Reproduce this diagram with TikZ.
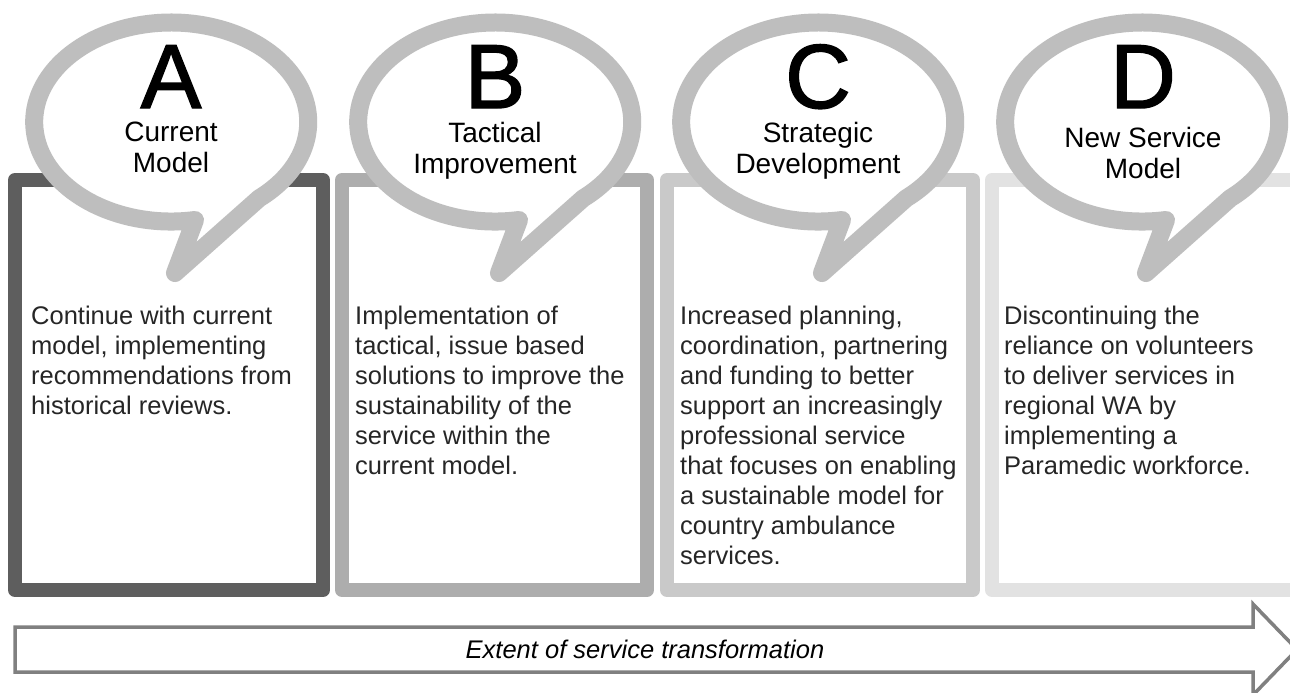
\documentclass[tikz,border=0pt]{standalone}
\usepackage{fontspec}
\setmainfont{Liberation Sans}
\newfontfamily\letterfont[FakeBold=1.6]{Liberation Sans}
\definecolor{bubblegray}{HTML}{BEBEBE}
\definecolor{edgeA}{HTML}{5E5E5E}
\definecolor{edgeB}{HTML}{ADADAD}
\definecolor{edgeC}{HTML}{C9C9C9}
\definecolor{edgeD}{HTML}{E2E2E2}
\definecolor{arrowgray}{HTML}{808080}
\tikzset{bubble/.style = {draw=bubblegray, fill=white, line width=18pt, line join=round},
         stage/.style = {fill=white, line width=14pt, line join=round},
         letter/.style = {anchor=base, inner sep=0, text depth=0pt, font=\letterfont\fontsize{91}{91}\selectfont},
         title/.style = {anchor=north, inner sep=0, align=center, font=\fontsize{28}{31}\selectfont},
         body/.style = {anchor=north west, inner sep=0, align=left, text=black!85, font=\fontsize{25.5}{30}\selectfont}}

\begin{document}
\begin{tikzpicture}[x=1pt, y=-1pt]
            \clip (0,0) rectangle (1290,693);
            \fill [white] (0,0) rectangle (1290,693);
            % boxes
            \draw [stage, draw=edgeA] (15,180) rectangle (323,590);
            \draw [stage, draw=edgeB] (342,180) rectangle (647,590);
            \draw [stage, draw=edgeC] (667,180) rectangle (973,590);
            \draw [stage, draw=edgeD] (992,180) rectangle (1298,590);
            % speech bubbles
            \draw [bubble] (175,273)--(195,220) arc [start angle=80, end angle=410, x radius=137, y radius=99.5]--cycle;
            \draw [bubble] (499,273)--(519,220) arc [start angle=80, end angle=410, x radius=137, y radius=99.5]--cycle;
            \draw [bubble] (822,273)--(842,220) arc [start angle=80, end angle=410, x radius=137, y radius=99.5]--cycle;
            \draw [bubble] (1146,273)--(1166,220) arc [start angle=80, end angle=410, x radius=137, y radius=99.5]--cycle;
            \node [letter] (letterA) at (171,108) {A};
            \node [letter] (letterB) at (495,108) {B};
            \node [letter] (letterC) at (818,108) {C};
            \node [letter] (letterD) at (1143,108) {D};
            \node [title] (titleA) at (171,122) {Current\\Model};
            \node [title] (titleB) at (495,122) {Tactical\\Improvement};
            \node [title] (titleC) at (818,122) {Strategic\\Development};
            \node [title] (titleD) at (1143,127) {New Service\\Model};
            % descriptions
            \node [body] (textA) at (31,306) {Continue with current\\model, implementing\\recommendations from\\historical reviews.};
            \node [body] (textB) at (355,306) {Implementation of\\tactical, issue based\\solutions to improve the\\sustainability of the\\service within the\\current model.};
            \node [body] (textC) at (680,306) {Increased planning,\\coordination, partnering\\and funding to better\\support an increasingly\\professional service\\that focuses on enabling\\a sustainable model for\\country ambulance\\services.};
            \node [body] (textD) at (1004,306) {Discontinuing the\\reliance on volunteers\\to deliver services in\\regional WA by\\implementing a\\Paramedic workforce.};
            % transformation arrow
            \draw [draw=arrowgray, fill=white, line width=3.5pt] (15,627)--(1253,627)--(1253,604)--(1297,649.5)--(1253,695)--(1253,672)--(15,672)--cycle;
            \node [] (extent) at (645,649.5) {\fontsize{25.5}{30}\selectfont\itshape Extent of service transformation};
        \end{tikzpicture}
\end{document}
